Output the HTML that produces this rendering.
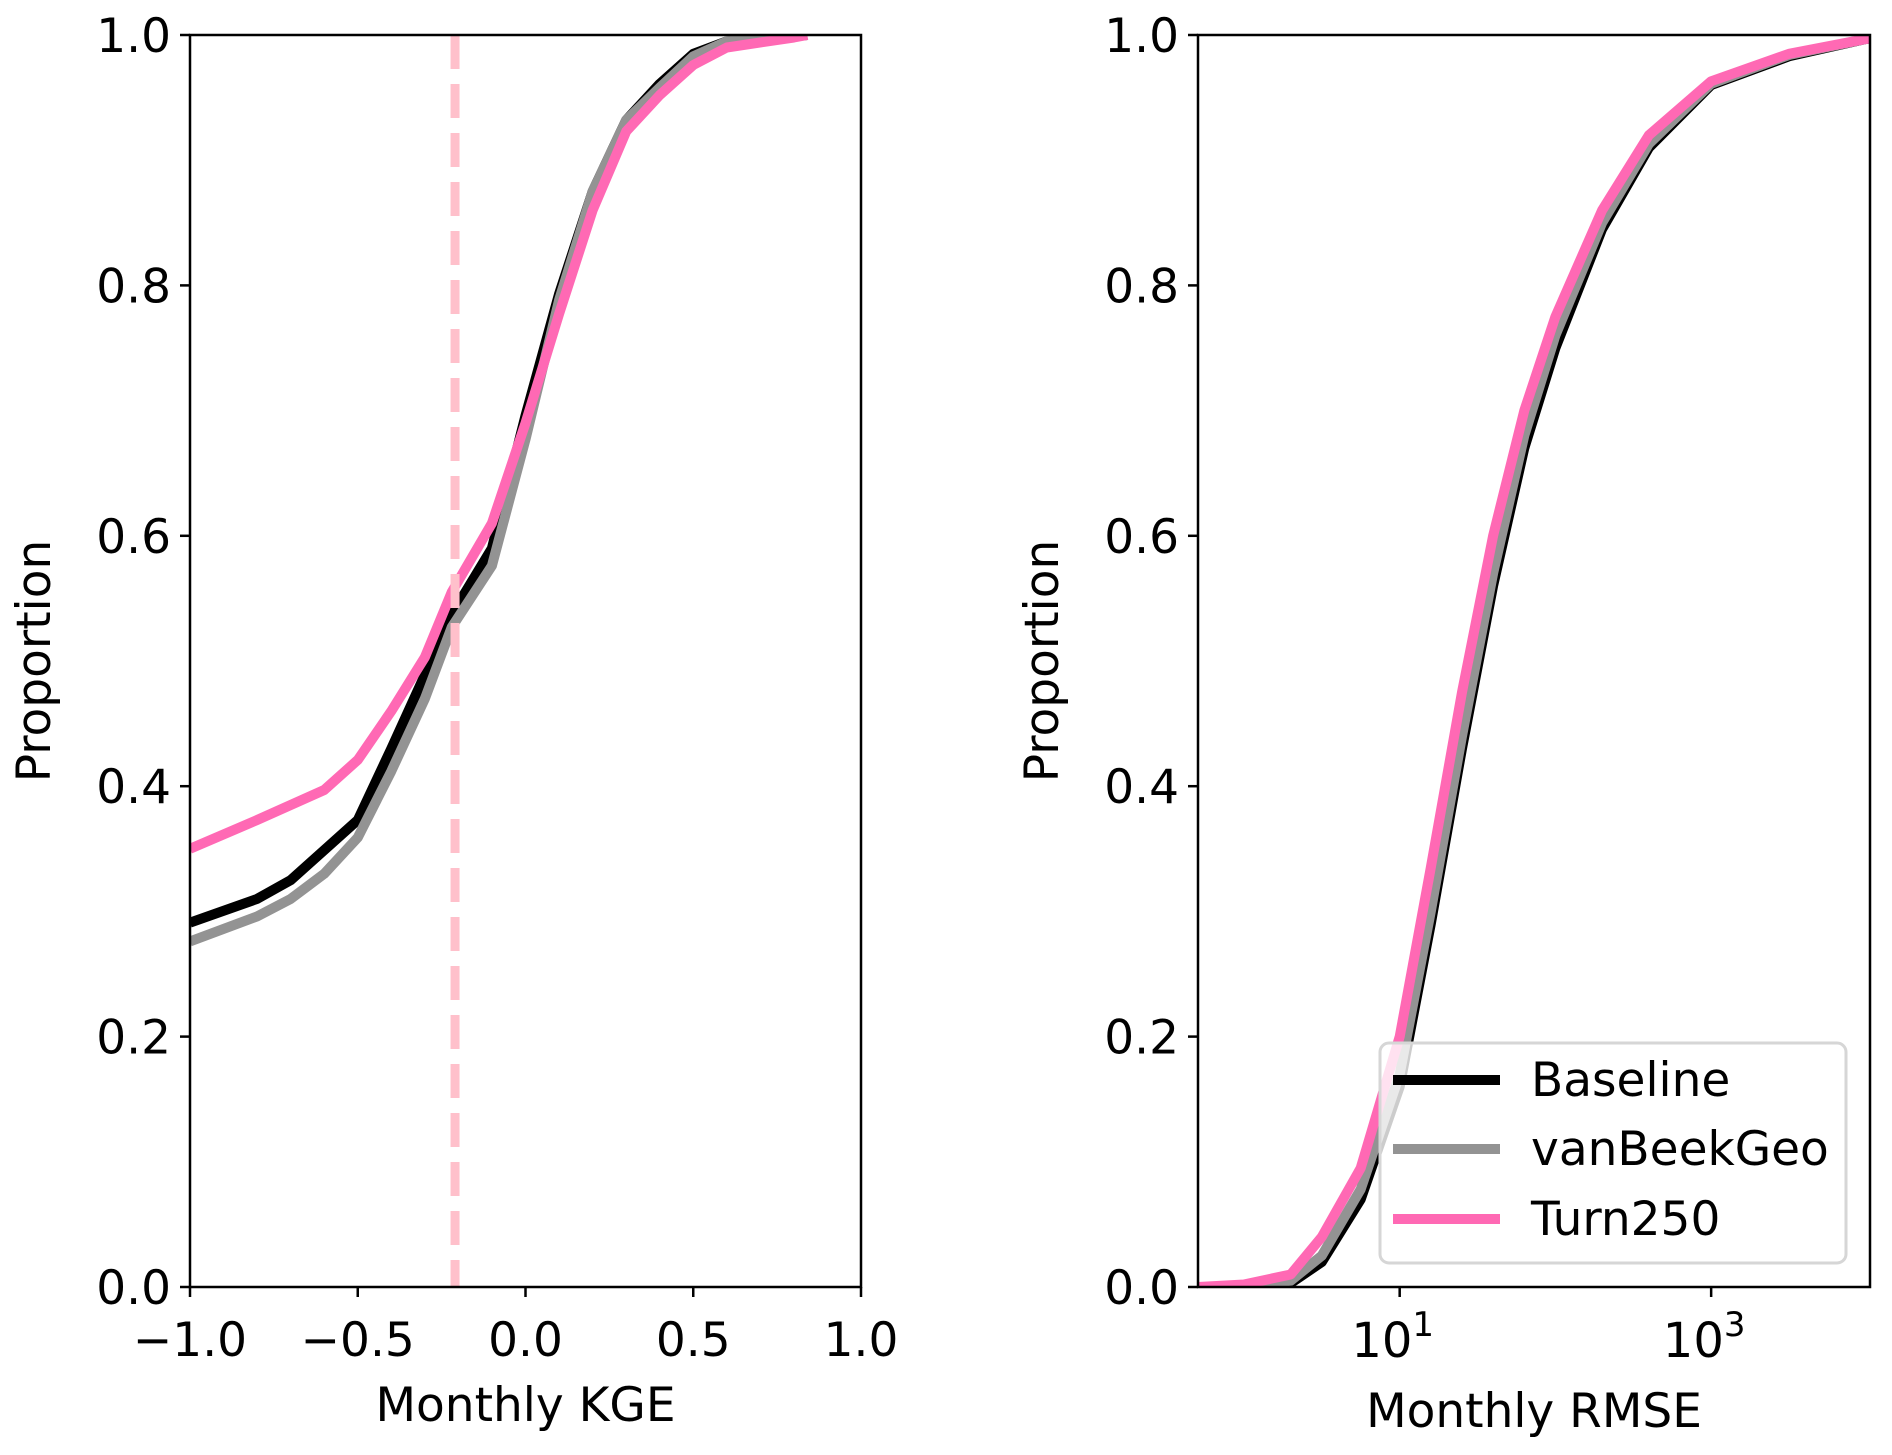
<!DOCTYPE html>
<html><head><meta charset="utf-8"><style>
html,body{margin:0;padding:0;background:#fff;}
svg{display:block;font-family:"DejaVu Sans","Liberation Sans",sans-serif;}
</style></head><body>
<svg id="chart" width="1892" height="1455" viewBox="0 0 1892 1455" xmlns="http://www.w3.org/2000/svg">
<rect width="1892" height="1455" fill="#fff"/>
</svg>
<script>
// ---- data: proportion levels (y) and x values ----
const kgeBaselineX = [-1.0,-0.8,-0.7,-0.6,-0.5,-0.4,-0.3,-0.22,-0.1,0.0,0.1,0.2,0.3,0.4,0.5,0.6,0.84];
const kgeBaselineY = [0.291,0.31,0.325,0.349,0.373,0.43,0.489,0.537,0.59,0.696,0.793,0.875,0.932,0.961,0.985,0.995,1.0];
const kgeGeoX = [-1.0,-0.8,-0.7,-0.6,-0.5,-0.4,-0.3,-0.22,-0.1,0.0,0.1,0.2,0.3,0.4,0.5,0.6,0.84];
const kgeGeoY = [0.276,0.296,0.31,0.33,0.359,0.412,0.47,0.527,0.576,0.677,0.788,0.875,0.932,0.958,0.983,0.995,1.0];
const kgeTurnX = [-1.0,-0.8,-0.6,-0.5,-0.4,-0.3,-0.22,-0.1,0.0,0.1,0.2,0.3,0.4,0.5,0.6,0.8,0.84];
const kgeTurnY = [0.35,0.373,0.397,0.421,0.46,0.503,0.555,0.61,0.69,0.777,0.86,0.923,0.952,0.976,0.99,0.998,1.0];
const kgeThreshold = -0.21;
const rmseLog = [-0.3,0.0,0.3,0.5,0.75,1.0,1.2,1.4,1.6,1.8,2.0,2.3,2.6,3.0,3.5,4.0,4.3];
const rmseBaselineY = [0.0,0.0,0.003,0.02,0.07,0.16,0.29,0.43,0.56,0.67,0.75,0.845,0.91,0.96,0.983,0.997,1.0];
const rmseGeoY = [0.0,0.0,0.005,0.025,0.078,0.17,0.3,0.44,0.57,0.68,0.76,0.85,0.913,0.961,0.984,0.997,1.0];
const rmseTurnY = [0.0,0.002,0.01,0.04,0.095,0.2,0.335,0.475,0.6,0.7,0.775,0.86,0.92,0.963,0.985,0.997,1.0];
const yTicks = [0.0,0.2,0.4,0.6,0.8,1.0];
const yTickLabels = ["0.0","0.2","0.4","0.6","0.8","1.0"];
const kgeTicks = [-1.0,-0.5,0.0,0.5,1.0];
const kgeTickLabels = ["\u22121.0","\u22120.5","0.0","0.5","1.0"];
const rmseTicks = [1,3];
const seriesNames = ["Baseline","vanBeekGeo","Turn250"];
const seriesColors = ["#000000","#939393","#ff69b4"];

const NS="http://www.w3.org/2000/svg";
const svg=document.getElementById('chart');
function mk(tag,attrs,parent){const e=document.createElementNS(NS,tag);for(const k in attrs)e.setAttribute(k,attrs[k]);(parent||svg).appendChild(e);return e;}

const FS=47;
const yTop=35,yBot=1287;
const yS=v=>yBot-(yBot-yTop)*v;
const L={x0:190,x1:861}, R={x0:1198,x1:1870};
const kx=v=>L.x0+(v+1)/2*(L.x1-L.x0);
const rLo=-0.295, rHi=4.02;
const rx=l=>R.x0+(l-rLo)/(rHi-rLo)*(R.x1-R.x0);

function clip(id,ax){const d=mk('defs',{});const c=mk('clipPath',{id:id},d);mk('rect',{x:ax.x0,y:yTop,width:ax.x1-ax.x0,height:yBot-yTop},c);}
clip('cl',L);clip('cr',R);

function line(xs,ys,fx,color,name,cp){
  let d='';for(let i=0;i<xs.length;i++){d+=(i?'L':'M')+fx(xs[i]).toFixed(1)+','+yS(ys[i]).toFixed(1);}
  const p=mk('path',{d:d,fill:'none',stroke:color,'stroke-width':10,'stroke-linejoin':'round','clip-path':'url(#'+cp+')'});
  
  
}
line(kgeBaselineX,kgeBaselineY,kx,seriesColors[0],'kge-baseline-line','cl');
line(kgeGeoX,kgeGeoY,kx,seriesColors[1],'kge-vanbeekgeo-line','cl');
line(kgeTurnX,kgeTurnY,kx,seriesColors[2],'kge-turn250-line','cl');
const th=mk('line',{x1:kx(kgeThreshold),x2:kx(kgeThreshold),y1:yTop,y2:yBot,stroke:'#ffc0cb','stroke-width':9,'stroke-dasharray':'34 15'});


line(rmseLog,rmseBaselineY,rx,seriesColors[0],'rmse-baseline-line','cr');
line(rmseLog,rmseGeoY,rx,seriesColors[1],'rmse-vanbeekgeo-line','cr');
line(rmseLog,rmseTurnY,rx,seriesColors[2],'rmse-turn250-line','cr');

function axes(ax,name){
  const r=mk('rect',{x:ax.x0,y:yTop,width:ax.x1-ax.x0,height:yBot-yTop,fill:'none',stroke:'#000','stroke-width':2.5});
  
  
  yTicks.forEach((v,i)=>{
    mk('line',{x1:ax.x0-10,x2:ax.x0,y1:yS(v),y2:yS(v),stroke:'#000','stroke-width':2.5});
    const t=mk('text',{x:ax.x0-19,y:yS(v)+17,'text-anchor':'end','font-size':FS});
    t.textContent=yTickLabels[i];
    
    
  });
  const yl=mk('text',{x:0,y:0,'text-anchor':'middle','font-size':FS,transform:'translate('+(ax.x0-140)+','+((yTop+yBot)/2)+') rotate(-90)'});
  yl.textContent='Proportion';
  
  
}
axes(L,'kge');axes(R,'rmse');
kgeTicks.forEach((v,i)=>{
  mk('line',{x1:kx(v),x2:kx(v),y1:yBot,y2:yBot+10,stroke:'#000','stroke-width':2.5});
  const t=mk('text',{x:kx(v),y:1356,'text-anchor':'middle','font-size':FS});
  t.textContent=kgeTickLabels[i];
  
  
});
rmseTicks.forEach(v=>{
  mk('line',{x1:rx(v),x2:rx(v),y1:yBot,y2:yBot+10,stroke:'#000','stroke-width':2.5});
  const t=mk('text',{x:rx(v)-7,y:1357,'text-anchor':'middle','font-size':48});
  t.textContent='10';
  const s=mk('tspan',{dy:-21,'font-size':34},t);s.textContent=String(v);
  
  
});
const xl1=mk('text',{x:(L.x0+L.x1)/2,y:1421,'text-anchor':'middle','font-size':FS});
xl1.textContent='Monthly KGE';


const xl2=mk('text',{x:(R.x0+R.x1)/2,y:1427,'text-anchor':'middle','font-size':FS});
xl2.textContent='Monthly RMSE';



const lg=mk('g',{});


mk('rect',{x:1380,y:1043,width:466,height:220,rx:9,fill:'#fff','fill-opacity':0.8,stroke:'#d6d6d6','stroke-width':3},lg);
const rowY=[1080,1149,1219];
seriesNames.forEach((n,i)=>{
  const g=mk('g',{},lg);
  
  
  mk('line',{x1:1393,x2:1500,y1:rowY[i],y2:rowY[i],stroke:seriesColors[i],'stroke-width':10},g);
  const t=mk('text',{x:1531,y:rowY[i]+16,'font-size':FS},g);t.textContent=n;
});
</script>
</body></html>
